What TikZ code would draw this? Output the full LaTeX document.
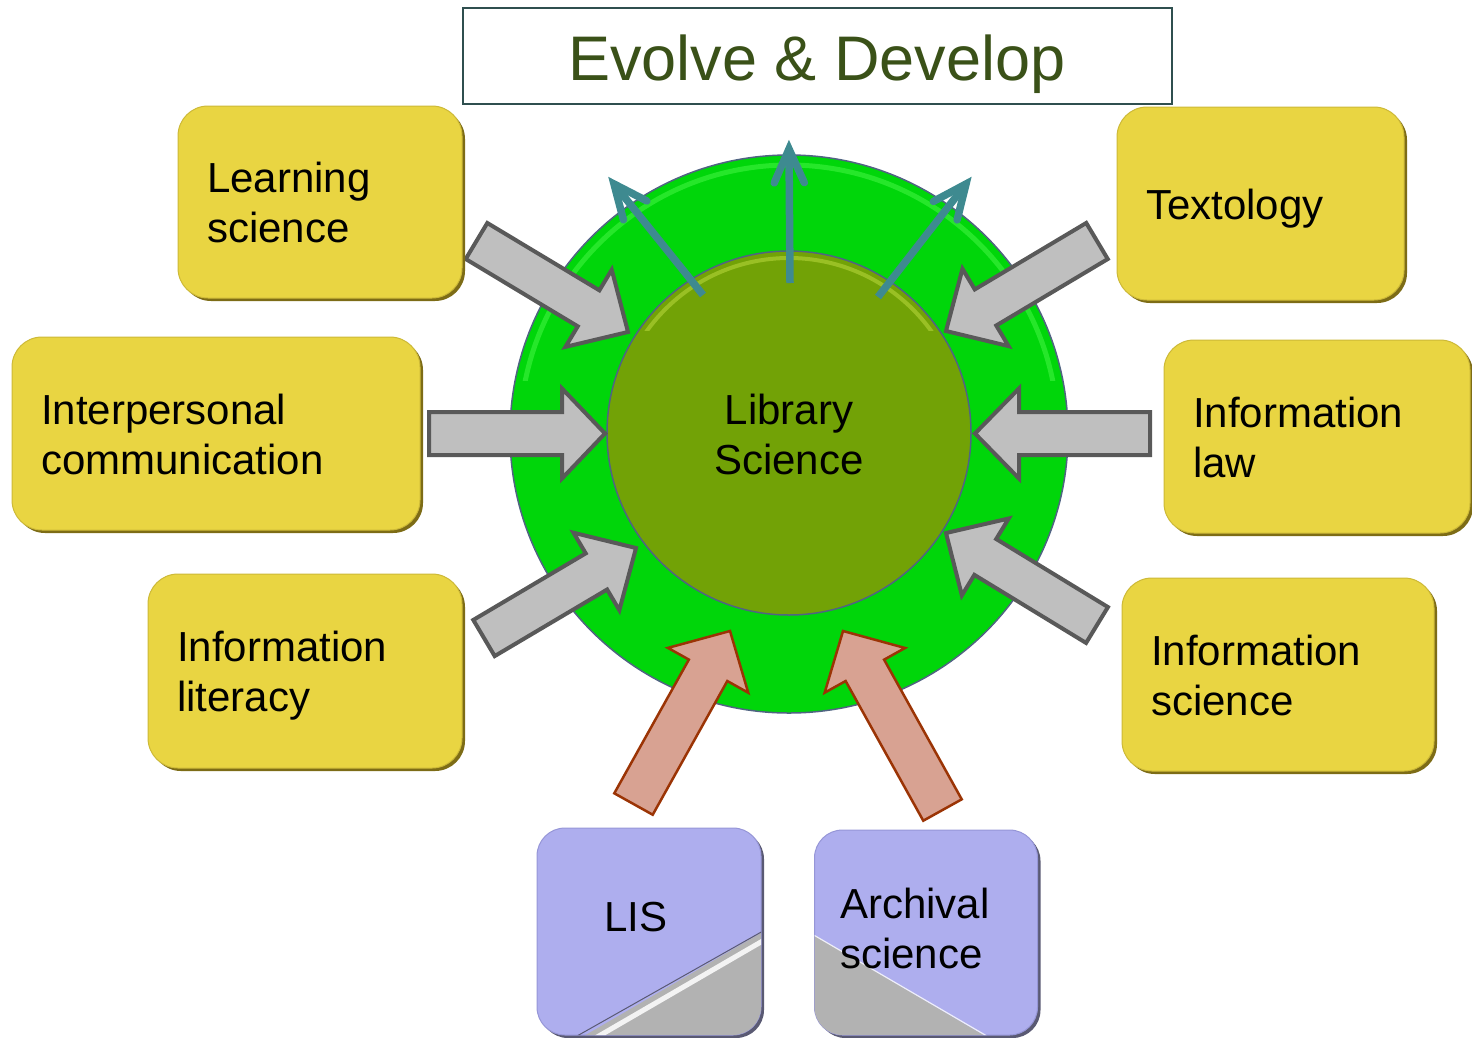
\documentclass[tikz,border=0pt]{standalone}
\usepackage{fontspec}
\setmainfont{Liberation Sans}
\usetikzlibrary{calc,shadows}
\definecolor{ylw}{RGB}{233,213,66}
\definecolor{ylwedge}{RGB}{205,185,55}
\definecolor{ylwshadow}{RGB}{125,108,22}
\definecolor{lav}{RGB}{174,174,238}
\definecolor{lavedge}{RGB}{150,150,215}
\definecolor{lavshadow}{RGB}{90,90,115}
\definecolor{foldgray}{RGB}{178,178,178}
\definecolor{outergreen}{RGB}{0,214,10}
\definecolor{outerhl}{RGB}{70,245,70}
\definecolor{innergreen}{RGB}{114,162,6}
\definecolor{innerhl}{RGB}{170,205,50}
\definecolor{rim}{RGB}{80,100,130}
\definecolor{tealc}{RGB}{62,138,144}
\definecolor{arrgray}{RGB}{191,191,191}
\definecolor{arrgrayedge}{RGB}{89,89,89}
\definecolor{pinkc}{RGB}{216,162,146}
\definecolor{pinkedge}{RGB}{155,52,5}
\definecolor{titlegreen}{RGB}{58,81,24}
\definecolor{titleedge}{RGB}{47,79,79}

\newcommand\blockarrow[5]{% #1 style, #2 id, #3 shaft half, #4 head half, #5 head length
  \coordinate (#2-b) at ($(#2-p)!#5pt!(#2-t)$);
  \draw[#1] (#2-p) -- ($(#2-b)!#4pt!90:(#2-p)$) -- ($(#2-b)!#3pt!90:(#2-p)$)
    -- ($(#2-t)!#3pt!90:(#2-p)$) -- ($(#2-t)!#3pt!-90:(#2-p)$)
    -- ($(#2-b)!#3pt!-90:(#2-p)$) -- ($(#2-b)!#4pt!-90:(#2-p)$) -- cycle;
}
\newcommand\tealarrow[1]{%
  \draw[tealline] (#1-s) -- (#1-e);
  \draw[tealline, line cap=round] ($(#1-e)!37pt!24:(#1-s)$) -- (#1-e) -- ($(#1-e)!37pt!-24:(#1-s)$);
}

\tikzset{
  bigfont/.style={font=\fontsize{42pt}{50pt}\selectfont},
  ybox/.style={bigfont, rectangle, rounded corners=30pt, fill=ylw, draw=ylwedge, line width=1pt,
    inner xsep=29pt, inner ysep=0pt, align=left, text height=31pt, text depth=50pt,
    drop shadow={shadow xshift=3pt, shadow yshift=-3pt, opacity=1, fill=ylwshadow}},
  pbox/.style={rectangle, rounded corners=28pt, fill=lav, draw=lavedge, line width=1pt,
    drop shadow={shadow xshift=3pt, shadow yshift=-3pt, opacity=1, fill=lavshadow}},
  ptext/.style={bigfont, inner sep=0pt, align=left, text depth=0pt},
  grayarrow/.style={fill=arrgray, draw=arrgrayedge, line width=4pt},
  pinkarrow/.style={fill=pinkc, draw=pinkedge, line width=2.5pt},
  tealline/.style={draw=tealc, line width=7.5pt},
}

\begin{document}
\begin{tikzpicture}[x=1pt,y=-1pt]
\useasboundingbox (0,0) rectangle (1472,1037);

% title
\node[draw=titleedge, line width=1.5pt, fill=white, minimum width=709pt, minimum height=96pt] (title) at (817.5,56) {};
\node[font=\fontsize{63pt}{70pt}\selectfont, text=titlegreen, anchor=base, inner sep=0pt] (titletxt) at (817,80) {Evolve \& Develop};

% circles
\node[circle, fill=outergreen, draw=rim, line width=1.5pt, minimum size=558pt, inner sep=0pt] (outer) at (789,434) {};
\begin{scope}
  \clip (0,0) rectangle (1472,380);
  \draw[line width=5pt, color=outerhl, opacity=.55] (789,434) circle[radius=269pt];
\end{scope}
\node[circle, fill=innergreen, draw=rim, line width=1.5pt, minimum size=364pt, inner sep=0pt] (inner) at (789,433) {};
\begin{scope}
  \clip (0,0) rectangle (1472,330);
  \draw[line width=4pt, color=innerhl, opacity=.7] (789,433) circle[radius=175pt];
\end{scope}
\node[bigfont, align=center, inner sep=0pt, text depth=0pt] (libtxt) at (789,434) {Library\\Science};

% teal arrows
\coordinate (t1-s) at (703,295); \coordinate (t1-e) at (614,184);
\coordinate (t2-s) at (790,283); \coordinate (t2-e) at (789,149);
\coordinate (t3-s) at (878,297); \coordinate (t3-e) at (966,184);
\tealarrow{t1}
\tealarrow{t2}
\tealarrow{t3}

% gray arrows
\coordinate (g1-t) at (476.5,241); \coordinate (g1-p) at (628,332);
\coordinate (g2-t) at (429,433.5); \coordinate (g2-p) at (605,433.5);
\coordinate (g3-t) at (484,638);   \coordinate (g3-p) at (636,548);
\coordinate (g4-t) at (1097,241);  \coordinate (g4-p) at (946,331);
\coordinate (g5-t) at (1150,433.5);\coordinate (g5-p) at (975,433.5);
\coordinate (g6-t) at (1097,625);  \coordinate (g6-p) at (946,533);
\blockarrow{grayarrow}{g1}{21}{45}{46}
\blockarrow{grayarrow}{g2}{21.5}{45}{43}
\blockarrow{grayarrow}{g3}{21}{45}{46}
\blockarrow{grayarrow}{g4}{21}{45}{46}
\blockarrow{grayarrow}{g5}{21.5}{45}{44}
\blockarrow{grayarrow}{g6}{21}{45}{46}

% yellow boxes
\node[ybox, minimum width=284pt, minimum height=192pt, text width=226pt] (ls) at (320,202) {Learning\\science};
\node[ybox, minimum width=408pt, minimum height=193pt, text width=350pt] (ic) at (216,433.5) {Interpersonal\\communication};
\node[ybox, minimum width=314pt, minimum height=194pt, text width=256pt] (il) at (305,671) {Information\\literacy};
\node[ybox, text depth=0pt, minimum width=287pt, minimum height=193pt, text width=229pt] (tx) at (1260.5,203.5) {Textology};
\node[ybox, minimum width=306pt, minimum height=193pt, text width=248pt] (law) at (1317,436.5) {Information\\law};
\node[ybox, minimum width=312pt, minimum height=193pt, text width=254pt] (is) at (1278,674.5) {Information\\science};

% pink arrows
\coordinate (p1-t) at (633.5,804); \coordinate (p1-p) at (730,631);
\coordinate (p2-t) at (942.5,810); \coordinate (p2-p) at (843,631);
\blockarrow{pinkarrow}{p1}{22}{46}{45}
\blockarrow{pinkarrow}{p2}{22}{46}{45}

% purple boxes
\node[pbox, minimum width=224pt, minimum height=207pt] (lis) at (649,931.5) {};
\begin{scope}
  \clip[rounded corners=28pt] (537,828) rectangle (761,1035);
  \fill[foldgray] (577,1040) -- (766,930) -- (766,1040) -- cycle;
  \draw[white, line width=5pt, opacity=.85] (592,1040) -- (766,939);
  \draw[lavshadow, line width=1pt] (577,1036) -- (763,931);
\end{scope}
\node[ptext] (listxt) at (636,917) {LIS};

\node[pbox, minimum width=223pt, minimum height=205pt] (arch) at (926,932.5) {};
\begin{scope}
  \clip[rounded corners=28pt] (814.5,830) rectangle (1037.5,1035);
  \fill[foldgray] (810,933) -- (992,1040) -- (810,1040) -- cycle;
  \draw[white, line width=1.2pt, opacity=.8] (812,934) -- (992,1039);
\end{scope}
\node[ptext, anchor=west] (archtxt) at (840,928) {Archival\\science};
\end{tikzpicture}
\end{document}
